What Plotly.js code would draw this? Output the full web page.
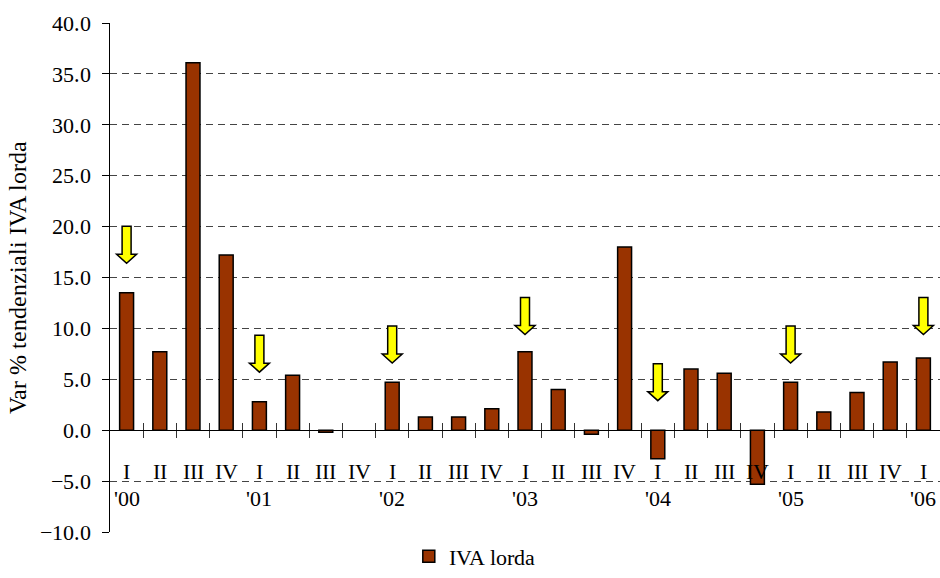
<!DOCTYPE html>
<html>
<head>
<meta charset="utf-8">
<script src="https://cdn.plot.ly/plotly-3.0.1.min.js"></script>
<style>
@font-face { font-family: 'RefSerif'; src: local('Liberation Serif'), local('LiberationSerif'), local('LiberationSerif-Regular'), local('Liberation Serif Regular'), local('Times New Roman'), local('DejaVu Serif'); }
html,body{margin:0;padding:0;background:#fff;}#chart{width:940px;height:578px;}
</style>
</head>
<body>
<div id="chart"></div>
<script>
// ---- data ----
var quarters = ['I','II','III','IV','I','II','III','IV','I','II','III','IV','I','II','III','IV','I','II','III','IV','I','II','III','IV','I'];
var years = ["'00","'01","'02","'03","'04","'05","'06"];
var ivaLorda = [13.5, 7.7, 36.1, 17.2, 2.8, 5.4, -0.2, null, 4.7, 1.3, 1.3, 2.1, 7.7, 4.0, -0.4, 18.0, -2.8, 6.0, 5.6, -5.3, 4.7, 1.8, 3.7, 6.7, 7.1];
var arrowTips = [16.4, 5.7, 6.6, 9.4, 2.9, 6.6, 9.4]; // value where each yellow arrow points (first quarter of each year)
var seriesName = 'IVA lorda';
var yTitle = 'Var % tendenziali IVA lorda';

// ---- derived positions ----
var xIdx = quarters.map(function(_, i){ return i + 1; });
var yearIdx = years.map(function(_, i){ return i * 4 + 1; });
var boundaries = quarters.slice(1).map(function(_, i){ return i + 1.5; });
var xr = [0.5, quarters.length + 0.5];
var font = "RefSerif, 'Liberation Serif', 'Times New Roman', serif";
var fs = 22;

function draw(){
  var trace = {
    type: 'bar', x: xIdx, y: ivaLorda, name: seriesName,
    width: 0.42,
    marker: {color: '#993300', line: {color: '#000000', width: 1.5}},
    showlegend: true, hoverinfo: 'y'
  };

  var arrowPath = 'M-4.5,37 L4.5,37 L4.5,9 L10,9 L0,0 L-10,9 L-4.5,9 Z';
  var shapes = yearIdx.map(function(xi, k){
    return {type: 'path', xref: 'x', yref: 'y', xsizemode: 'pixel', ysizemode: 'pixel',
            xanchor: xi, yanchor: arrowTips[k], path: arrowPath,
            fillcolor: '#FFFF00', line: {color: '#000000', width: 1.5}, layer: 'above'};
  });

  var common = {range: xr, anchor: 'free', position: 0.2, showgrid: false, zeroline: false, fixedrange: true};
  var tf = {family: font, size: fs, color: '#000000'};

  var layout = {
    width: 940, height: 578,
    margin: {l: 110, r: 0, t: 23, b: 46, autoexpand: false},
    paper_bgcolor: '#ffffff', plot_bgcolor: '#ffffff',
    font: tf,
    bargap: 0.5,
    xaxis: Object.assign({}, common, {
      tickmode: 'array', tickvals: xIdx, ticktext: quarters,
      ticks: '', showline: true, linecolor: '#000000', linewidth: 1,
      ticklabelstandoff: 21, tickfont: tf
    }),
    xaxis2: Object.assign({}, common, {
      overlaying: 'x', tickmode: 'array', tickvals: boundaries,
      ticks: 'outside', ticklen: 7, tickcolor: '#333333', tickwidth: 1,
      showticklabels: false, showline: false
    }),
    xaxis3: Object.assign({}, common, {
      overlaying: 'x', tickmode: 'array', tickvals: boundaries,
      ticks: 'inside', ticklen: 7, tickcolor: '#333333', tickwidth: 1,
      showticklabels: false, showline: false
    }),
    xaxis4: Object.assign({}, common, {
      overlaying: 'x', tickmode: 'array', tickvals: yearIdx, ticktext: years,
      ticks: '', showline: false, ticklabelstandoff: 53, tickfont: tf
    }),
    yaxis: {
      range: [-10, 40], dtick: 5, tick0: 0, tickformat: '.1f',
      ticks: 'outside', ticklen: 7, tickcolor: '#000000', tickwidth: 1,
      showline: true, linecolor: '#000000', linewidth: 1,
      showgrid: true, gridcolor: '#444444', gridwidth: 1, griddash: '7px,5px',
      zeroline: false, ticklabelstandoff: 7, fixedrange: true,
      tickfont: tf,
      title: {text: yTitle, font: {family: font, size: 24, color: '#000000'}, standoff: 6}
    },
    shapes: shapes,
    showlegend: true,
    legend: {orientation: 'h', x: 0.36, xanchor: 'left', y: -0.0895, yanchor: 'bottom',
             font: tf, bgcolor: 'rgba(0,0,0,0)'}
  };

  // extra invisible traces so the overlaying axes get drawn
  var dummy = function(ax){ return {type: 'scatter', x: [], y: [], xaxis: ax, yaxis: 'y', showlegend: false, hoverinfo: 'skip'}; };

  Plotly.newPlot('chart', [trace, dummy('x2'), dummy('x3'), dummy('x4')], layout, {staticPlot: true});
}

var done = false;
function go(){ if(!done){ done = true; draw(); } }
if (document.fonts && document.fonts.load) {
  document.fonts.load("22px RefSerif").then(go, go);
  setTimeout(go, 1500);
} else { go(); }
</script>
</body>
</html>
